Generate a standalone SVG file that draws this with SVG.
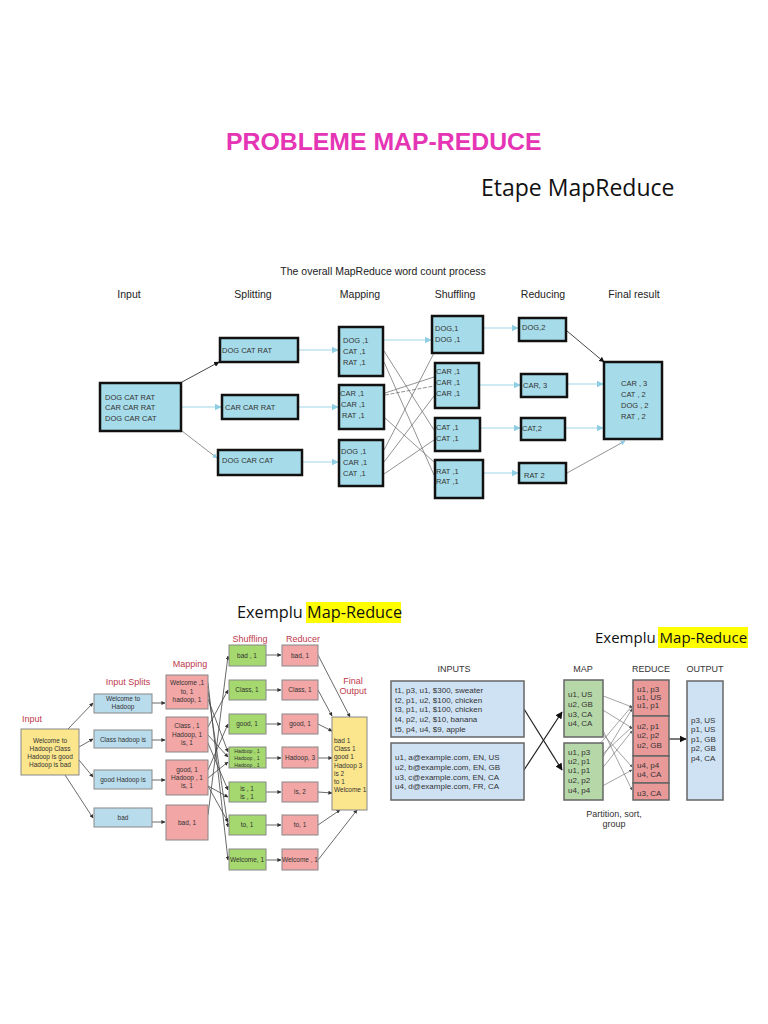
<svg xmlns="http://www.w3.org/2000/svg" width="768" height="1024" viewBox="0 0 768 1024">
<style>
text{font-family:"Liberation Sans",Arial,sans-serif}
.t1{font-size:24.8px;font-weight:bold;fill:#e535b5}
.cal{font-family:"Open Sans","Liberation Sans",sans-serif;fill:#111}
.hd{font-size:10.5px;fill:#222}
.b1{fill:#a6dbe9;stroke:#111;stroke-width:2.5}
.x1{font-size:7.5px;fill:#333}
.lb{stroke:#9fd6e6;stroke-width:1.2;fill:none}
.lg{stroke:#777;stroke-width:0.8;fill:none}
.lk{stroke:#333;stroke-width:0.9;fill:none}
.red{font-size:9px;fill:#c0394b}
.by{fill:#fbe68d;stroke:#888;stroke-width:1}
.bb{fill:#b9dcec;stroke:#888;stroke-width:1}
.bp{fill:#f2a6a6;stroke:#888;stroke-width:1}
.bg{fill:#a5d86e;stroke:#888;stroke-width:1}
.x2{font-size:6.5px;fill:#333;text-anchor:middle}
.x2l{font-size:6.5px;fill:#333}
.x2s{font-size:5.2px;fill:#333;text-anchor:middle}
.l2{stroke:#444;stroke-width:0.8;fill:none}
.hd3{font-size:9px;fill:#333;text-anchor:middle}
.ib{fill:#cfe2f3;stroke:#666;stroke-width:1.5}
.gb{fill:#b6d7a8;stroke:#666;stroke-width:1.5}
.rb{fill:#ea9999;stroke:#666;stroke-width:1.5}
.x3{font-size:8px;fill:#333}
.l3{stroke:#666;stroke-width:0.6;fill:none}
.l3k{stroke:#222;stroke-width:1.2;fill:none}
</style>
<defs>
<marker id="ak" viewBox="0 0 10 10" refX="9" refY="5" markerWidth="6" markerHeight="6" orient="auto"><path d="M0,0L10,5L0,10z" fill="#111"/></marker>
<marker id="ab" viewBox="0 0 10 10" refX="9" refY="5" markerWidth="6" markerHeight="6" orient="auto"><path d="M0,0L10,5L0,10z" fill="#8fcde2"/></marker>
<marker id="as" viewBox="0 0 10 10" refX="9" refY="5" markerWidth="5" markerHeight="5" orient="auto"><path d="M0,0L10,5L0,10z" fill="#333"/></marker>
<marker id="ag" viewBox="0 0 10 10" refX="9" refY="5" markerWidth="5" markerHeight="5" orient="auto"><path d="M0,0L10,5L0,10z" fill="#555"/></marker>
</defs>
<rect width="768" height="1024" fill="#fff"/>

<text class="t1" x="226" y="150">PROBLEME MAP-REDUCE</text>
<text class="cal" x="481" y="196" font-size="23">Etape MapReduce</text>

<!-- Diagram 1 -->
<g id="d1-headers">
<text x="383" y="275" font-size="10.5" fill="#222" text-anchor="middle">The overall MapReduce word count process</text>
<text class="hd" x="129" y="298" text-anchor="middle">Input</text>
<text class="hd" x="253" y="298" text-anchor="middle">Splitting</text>
<text class="hd" x="360" y="298" text-anchor="middle">Mapping</text>
<text class="hd" x="455" y="298" text-anchor="middle">Shuffling</text>
<text class="hd" x="543" y="298" text-anchor="middle">Reducing</text>
<text class="hd" x="634" y="298" text-anchor="middle">Final result</text>
</g>
<g id="d1-connectors">
<line class="lk" x1="182" y1="382" x2="219" y2="362" marker-end="url(#ak)"/>
<line class="lb" x1="182" y1="407" x2="221" y2="407" marker-end="url(#ab)"/>
<line class="lg" x1="182" y1="431" x2="217" y2="458" marker-end="url(#ab)"/>
<line class="lb" x1="299" y1="350" x2="338" y2="350" marker-end="url(#ab)"/>
<line class="lb" x1="299" y1="407" x2="338" y2="407" marker-end="url(#ab)"/>
<line class="lb" x1="303" y1="462" x2="338" y2="462" marker-end="url(#ab)"/>
<line class="lb" x1="384" y1="340" x2="431" y2="340" marker-end="url(#ab)"/>
<line class="lg" x1="384" y1="351" x2="434" y2="430"/>
<line class="lg" x1="384" y1="362" x2="434" y2="475"/>
<line class="lg" x1="385" y1="393" x2="434" y2="377"/>
<line class="lg" x1="385" y1="395" x2="434" y2="386" stroke-dasharray="4,1.5"/>
<line class="lg" x1="385" y1="418" x2="434" y2="462"/>
<line class="lg" x1="384" y1="450" x2="434" y2="353"/>
<line class="lg" x1="384" y1="462" x2="434" y2="396"/>
<line class="lg" x1="384" y1="474" x2="434" y2="440"/>
<line class="lb" x1="484" y1="328" x2="518" y2="328" marker-end="url(#ab)"/>
<line class="lb" x1="480" y1="385" x2="520" y2="385" marker-end="url(#ab)"/>
<line class="lb" x1="481" y1="428" x2="520" y2="428" marker-end="url(#ab)"/>
<line class="lb" x1="484" y1="473" x2="518" y2="473" marker-end="url(#ab)"/>
<line class="lk" x1="567" y1="331" x2="604" y2="362" marker-end="url(#ak)"/>
<line class="lb" x1="568" y1="384" x2="603" y2="384" marker-end="url(#ab)"/>
<line class="lb" x1="566" y1="428" x2="603" y2="428" marker-end="url(#ab)"/>
<line class="lg" x1="567" y1="473" x2="625" y2="441" marker-end="url(#ab)"/>
</g>
<g id="d1-input"><rect class="b1" x="100" y="383" width="81" height="48"/>
<text class="x1" x="105" y="400">DOG CAT RAT</text><text class="x1" x="105" y="410">CAR CAR RAT</text><text class="x1" x="105" y="421">DOG CAR CAT</text></g>
<g id="d1-split1"><rect class="b1" x="220" y="338" width="78" height="24"/><text class="x1" x="222" y="353">DOG CAT RAT</text></g>
<g id="d1-split2"><rect class="b1" x="222" y="395" width="76" height="24"/><text class="x1" x="225" y="410">CAR CAR RAT</text></g>
<g id="d1-split3"><rect class="b1" x="218" y="450" width="84" height="25"/><text class="x1" x="222" y="463">DOG CAR CAT</text></g>
<g id="d1-map1"><rect class="b1" x="339" y="327" width="44" height="49"/>
<text class="x1" x="343" y="343">DOG ,1</text><text class="x1" x="343" y="354">CAT  ,1</text><text class="x1" x="343" y="365">RAT  ,1</text></g>
<g id="d1-map2"><rect class="b1" x="339" y="385" width="45" height="44"/>
<text class="x1" x="340" y="396">CAR ,1</text><text class="x1" x="341" y="407">CAR ,1</text><text class="x1" x="342" y="418">RAT ,1</text></g>
<g id="d1-map3"><rect class="b1" x="339" y="440" width="44" height="46"/>
<text class="x1" x="341" y="454">DOG ,1</text><text class="x1" x="343" y="465">CAR ,1</text><text class="x1" x="343" y="476">CAT ,1</text></g>
<g id="d1-shuf1"><rect class="b1" x="432" y="316" width="51" height="37"/>
<text class="x1" x="435" y="331">DOG,1</text><text class="x1" x="435" y="342">DOG ,1</text></g>
<g id="d1-shuf2"><rect class="b1" x="435" y="363" width="44" height="45"/>
<text class="x1" x="436" y="374">CAR ,1</text><text class="x1" x="436" y="385">CAR ,1</text><text class="x1" x="436" y="396">CAR ,1</text></g>
<g id="d1-shuf3"><rect class="b1" x="435" y="418" width="45" height="33"/>
<text class="x1" x="436" y="430">CAT ,1</text><text class="x1" x="436" y="441">CAT ,1</text></g>
<g id="d1-shuf4"><rect class="b1" x="435" y="460" width="48" height="38"/>
<text class="x1" x="436" y="474">RAT ,1</text><text class="x1" x="436" y="484">RAT ,1</text></g>
<g id="d1-red1"><rect class="b1" x="519" y="318" width="47" height="23"/><text class="x1" x="522" y="330">DOG,2</text></g>
<g id="d1-red2"><rect class="b1" x="521" y="374" width="46" height="23"/><text class="x1" x="523" y="388">CAR, 3</text></g>
<g id="d1-red3"><rect class="b1" x="521" y="418" width="44" height="22"/><text class="x1" x="522" y="431">CAT,2</text></g>
<g id="d1-red4"><rect class="b1" x="519" y="463" width="47" height="20"/><text class="x1" x="524" y="478">RAT 2</text></g>
<g id="d1-final"><rect class="b1" x="604" y="362" width="58" height="77"/>
<text class="x1" x="621" y="386">CAR , 3</text><text class="x1" x="621" y="397">CAT , 2</text><text class="x1" x="621" y="408">DOG , 2</text><text class="x1" x="621" y="419">RAT , 2</text></g>

<!-- Diagram 2 -->
<rect x="306" y="602" width="95" height="21" fill="#ffff00"/>
<text class="cal" x="237" y="618" font-size="16.3">Exemplu Map-Reduce</text>
<g id="d2-labels">
<text class="red" x="22" y="722">Input</text>
<text class="red" x="128" y="685" text-anchor="middle">Input Splits</text>
<text class="red" x="190" y="667" text-anchor="middle">Mapping</text>
<text class="red" x="250" y="642" text-anchor="middle" font-size="8.5">Shuffling</text>
<text class="red" x="303" y="642" text-anchor="middle" font-size="8.5">Reducer</text>
<text class="red" x="353" y="684" text-anchor="middle">Final</text>
<text class="red" x="353" y="694" text-anchor="middle">Output</text>
</g>
<g id="d2-connectors">
<line class="l2" x1="68" y1="729" x2="93" y2="703" marker-end="url(#as)"/>
<line class="l2" x1="79" y1="747" x2="93" y2="739" marker-end="url(#as)"/>
<line class="l2" x1="79" y1="760" x2="93" y2="777" marker-end="url(#as)"/>
<line class="l2" x1="65" y1="775" x2="93" y2="818" marker-end="url(#as)"/>
<line class="l2" x1="152" y1="703" x2="165" y2="703" marker-end="url(#as)"/>
<line class="l2" x1="152" y1="740" x2="165" y2="740" marker-end="url(#as)"/>
<line class="l2" x1="152" y1="780" x2="165" y2="780" marker-end="url(#as)"/>
<line class="l2" x1="152" y1="822" x2="165" y2="822" marker-end="url(#as)"/>
<line class="l2" x1="208" y1="683" x2="228" y2="860" marker-end="url(#as)"/>
<line class="l2" x1="208" y1="691" x2="228" y2="827" marker-end="url(#as)"/>
<line class="l2" x1="208" y1="699" x2="228" y2="752" marker-end="url(#as)"/>
<line class="l2" x1="208" y1="727" x2="228" y2="690" marker-end="url(#as)"/>
<line class="l2" x1="208" y1="735" x2="228" y2="757" marker-end="url(#as)"/>
<line class="l2" x1="208" y1="743" x2="228" y2="790" marker-end="url(#as)"/>
<line class="l2" x1="208" y1="770" x2="228" y2="724" marker-end="url(#as)"/>
<line class="l2" x1="208" y1="778" x2="228" y2="762" marker-end="url(#as)"/>
<line class="l2" x1="208" y1="786" x2="228" y2="797" marker-end="url(#as)"/>
<line class="l2" x1="208" y1="815" x2="228" y2="656" marker-end="url(#as)"/>
<line class="l2" x1="208" y1="786" x2="228" y2="822" marker-end="url(#as)"/>
<line class="l2" x1="266" y1="655" x2="281" y2="655" marker-end="url(#as)"/>
<line class="l2" x1="266" y1="690" x2="281" y2="690" marker-end="url(#as)"/>
<line class="l2" x1="266" y1="724" x2="281" y2="724" marker-end="url(#as)"/>
<line class="l2" x1="266" y1="758" x2="281" y2="758" marker-end="url(#as)"/>
<line class="l2" x1="266" y1="792" x2="281" y2="792" marker-end="url(#as)"/>
<line class="l2" x1="266" y1="825" x2="281" y2="825" marker-end="url(#as)"/>
<line class="l2" x1="266" y1="860" x2="281" y2="860" marker-end="url(#as)"/>
<line class="l2" x1="318" y1="655" x2="350" y2="717" marker-end="url(#as)"/>
<line class="l2" x1="318" y1="690" x2="332" y2="716" marker-end="url(#as)"/>
<line class="l2" x1="318" y1="724" x2="332" y2="731" marker-end="url(#as)"/>
<line class="l2" x1="318" y1="758" x2="332" y2="758" marker-end="url(#as)"/>
<line class="l2" x1="318" y1="792" x2="332" y2="793" marker-end="url(#as)"/>
<line class="l2" x1="318" y1="825" x2="340" y2="810" marker-end="url(#as)"/>
<line class="l2" x1="318" y1="860" x2="357" y2="810" marker-end="url(#as)"/>
</g>
<g id="d2-input"><rect class="by" x="21" y="729" width="58" height="46"/>
<text class="x2" x="50" y="743">Welcome to</text><text class="x2" x="50" y="751">Hadoop Class</text><text class="x2" x="50" y="759">Hadoop is good</text><text class="x2" x="50" y="767">Hadoop is bad</text></g>
<g id="d2-split1"><rect class="bb" x="94" y="694" width="58" height="19"/><text class="x2" x="123" y="701">Welcome to</text><text class="x2" x="123" y="709">Hadoop</text></g>
<g id="d2-split2"><rect class="bb" x="94" y="730" width="58" height="18"/><text class="x2" x="123" y="741.5">Class hadoop is</text></g>
<g id="d2-split3"><rect class="bb" x="94" y="770" width="58" height="19"/><text class="x2" x="123" y="781.5">good Hadoop is</text></g>
<g id="d2-split4"><rect class="bb" x="94" y="808" width="58" height="19"/><text class="x2" x="123" y="820">bad</text></g>
<g id="d2-map1"><rect class="bp" x="166" y="675" width="42" height="34"/><text class="x2" x="187" y="685">Welcome ,1</text><text class="x2" x="187" y="694">to, 1</text><text class="x2" x="187" y="702">hadoop, 1</text></g>
<g id="d2-map2"><rect class="bp" x="166" y="717" width="42" height="35"/><text class="x2" x="187" y="728">Class , 1</text><text class="x2" x="187" y="737">Hadoop, 1</text><text class="x2" x="187" y="745">is, 1</text></g>
<g id="d2-map3"><rect class="bp" x="166" y="760" width="42" height="35"/><text class="x2" x="187" y="772">good, 1</text><text class="x2" x="187" y="780">Hadoop , 1</text><text class="x2" x="187" y="788">is, 1</text></g>
<g id="d2-map4"><rect class="bp" x="166" y="805" width="42" height="35"/><text class="x2" x="187" y="825">bad, 1</text></g>
<g id="d2-shuf1"><rect class="bg" x="229" y="645" width="37" height="21"/><text class="x2" x="247" y="658">bad , 1</text></g>
<g id="d2-shuf2"><rect class="bg" x="229" y="680" width="37" height="20"/><text class="x2" x="247" y="692">Class, 1</text></g>
<g id="d2-shuf3"><rect class="bg" x="229" y="714" width="37" height="20"/><text class="x2" x="247" y="726">good, 1</text></g>
<g id="d2-shuf4"><rect class="bg" x="229" y="747" width="37" height="21"/><text class="x2s" x="247" y="753">Hadoop , 1</text><text class="x2s" x="247" y="760">Hadoop , 1</text><text class="x2s" x="247" y="767">Hadoop , 1</text></g>
<g id="d2-shuf5"><rect class="bg" x="229" y="782" width="37" height="20"/><text class="x2" x="247" y="791">is , 1</text><text class="x2" x="247" y="799">is , 1</text></g>
<g id="d2-shuf6"><rect class="bg" x="229" y="815" width="37" height="20"/><text class="x2" x="247" y="827">to, 1</text></g>
<g id="d2-shuf7"><rect class="bg" x="229" y="849" width="37" height="21"/><text class="x2" x="247" y="862">Welcome, 1</text></g>
<g id="d2-red1"><rect class="bp" x="282" y="645" width="36" height="21"/><text class="x2" x="300" y="658">bad, 1</text></g>
<g id="d2-red2"><rect class="bp" x="282" y="680" width="36" height="20"/><text class="x2" x="300" y="692">Class, 1</text></g>
<g id="d2-red3"><rect class="bp" x="282" y="714" width="36" height="20"/><text class="x2" x="300" y="726">good, 1</text></g>
<g id="d2-red4"><rect class="bp" x="282" y="747" width="36" height="21"/><text class="x2" x="300" y="760">Hadoop, 3</text></g>
<g id="d2-red5"><rect class="bp" x="282" y="782" width="36" height="20"/><text class="x2" x="300" y="794">is, 2</text></g>
<g id="d2-red6"><rect class="bp" x="282" y="815" width="36" height="20"/><text class="x2" x="300" y="827">to, 1</text></g>
<g id="d2-red7"><rect class="bp" x="282" y="849" width="36" height="21"/><text class="x2" x="300" y="862">Welcome , 1</text></g>
<g id="d2-final"><rect class="by" x="332" y="717" width="35" height="93"/>
<text class="x2l" x="334" y="743">bad 1</text><text class="x2l" x="334" y="751">Class 1</text><text class="x2l" x="334" y="759">good 1</text><text class="x2l" x="334" y="768">Hadoop 3</text><text class="x2l" x="334" y="776">is 2</text><text class="x2l" x="334" y="784">to 1</text><text class="x2l" x="334" y="792">Welcome 1</text></g>

<!-- Diagram 3 -->
<rect x="658" y="627" width="90" height="21" fill="#ffff00"/>
<text class="cal" x="595" y="643" font-size="15">Exemplu Map-Reduce</text>
<g id="d3-labels">
<text class="hd3" x="454" y="672">INPUTS</text>
<text class="hd3" x="583" y="672">MAP</text>
<text class="hd3" x="651" y="672">REDUCE</text>
<text class="hd3" x="705" y="672">OUTPUT</text>
<text class="hd3" x="614" y="817" font-size="8.5">Partition, sort,</text>
<text class="hd3" x="614" y="827" font-size="8.5">group</text>
</g>
<g id="d3-connectors">
<line class="l3k" x1="524" y1="709" x2="562" y2="770" marker-end="url(#ak)"/>
<line class="l3k" x1="524" y1="770" x2="562" y2="712" marker-end="url(#ak)"/>
<line class="l3" x1="598" y1="694" x2="632" y2="707" marker-end="url(#ag)"/>
<line class="l3" x1="593" y1="704" x2="632" y2="728" marker-end="url(#ag)"/>
<line class="l3" x1="595" y1="714" x2="632" y2="790" marker-end="url(#ag)"/>
<line class="l3" x1="593" y1="723" x2="632" y2="767" marker-end="url(#ag)"/>
<line class="l3" x1="593" y1="752" x2="632" y2="706" marker-end="url(#ag)"/>
<line class="l3" x1="595" y1="761" x2="632" y2="727" marker-end="url(#ag)"/>
<line class="l3" x1="595" y1="770" x2="632" y2="709" marker-end="url(#ag)"/>
<line class="l3" x1="593" y1="780" x2="632" y2="731" marker-end="url(#ag)"/>
<line class="l3" x1="595" y1="790" x2="632" y2="770" marker-end="url(#ag)"/>
<line class="l3k" x1="669" y1="739" x2="686" y2="739" marker-end="url(#ak)"/>
</g>
<g id="d3-input1"><rect class="ib" x="391" y="681" width="133" height="56"/>
<text class="x3" x="395" y="693">t1, p3, u1, $300, sweater</text><text class="x3" x="395" y="703">t2, p1, u2, $100, chicken</text><text class="x3" x="395" y="712">t3, p1, u1, $100, chicken</text><text class="x3" x="395" y="722">t4, p2, u2, $10, banana</text><text class="x3" x="395" y="732">t5, p4, u4, $9, apple</text></g>
<g id="d3-input2"><rect class="ib" x="391" y="743" width="133" height="57"/>
<text class="x3" x="395" y="760">u1, a@example.com, EN, US</text><text class="x3" x="395" y="770">u2, b@example.com, EN, GB</text><text class="x3" x="395" y="780">u3, c@example.com, EN, CA</text><text class="x3" x="395" y="789">u4, d@example.com, FR, CA</text></g>
<g id="d3-map1"><rect class="gb" x="564" y="680" width="39" height="57"/>
<text class="x3" x="568" y="697">u1, US</text><text class="x3" x="568" y="707">u2, GB</text><text class="x3" x="568" y="717">u3, CA</text><text class="x3" x="568" y="726">u4, CA</text></g>
<g id="d3-map2"><rect class="gb" x="564" y="743" width="39" height="57"/>
<text class="x3" x="568" y="755">u1, p3</text><text class="x3" x="568" y="764">u2, p1</text><text class="x3" x="568" y="773">u1, p1</text><text class="x3" x="568" y="783">u2, p2</text><text class="x3" x="568" y="793">u4, p4</text></g>
<g id="d3-red1"><rect class="rb" x="633" y="680" width="36" height="36"/>
<text class="x3" x="637" y="692">u1, p3</text><text class="x3" x="637" y="700">u1, US</text><text class="x3" x="637" y="708">u1, p1</text></g>
<g id="d3-red2"><rect class="rb" x="633" y="716" width="36" height="40"/>
<text class="x3" x="637" y="729">u2, p1</text><text class="x3" x="637" y="738">u2, p2</text><text class="x3" x="637" y="748">u2, GB</text></g>
<g id="d3-red3"><rect class="rb" x="633" y="756" width="36" height="27"/>
<text class="x3" x="637" y="768">u4, p4</text><text class="x3" x="637" y="777">u4, CA</text></g>
<g id="d3-red4"><rect class="rb" x="633" y="783" width="36" height="17"/>
<text class="x3" x="637" y="796">u3, CA</text></g>
<g id="d3-output"><rect class="ib" x="687" y="681" width="36" height="119"/>
<text class="x3" x="691" y="723">p3, US</text><text class="x3" x="691" y="732">p1, US</text><text class="x3" x="691" y="742">p1, GB</text><text class="x3" x="691" y="751">p2, GB</text><text class="x3" x="691" y="761">p4, CA</text></g>
</svg>
